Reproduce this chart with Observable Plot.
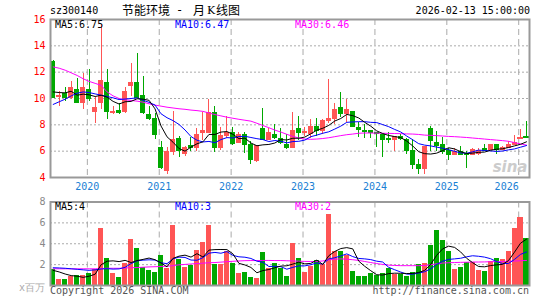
<!DOCTYPE html>
<html><head><meta charset="utf-8">
<script src="https://cdn.jsdelivr.net/npm/d3@7"></script>
<script src="https://cdn.jsdelivr.net/npm/@observablehq/plot@0.6"></script>
<style>
html,body{margin:0;padding:0;background:#fff;}
#wrap{position:relative;width:545px;height:300px;overflow:hidden;font-family:"DejaVu Sans Mono",monospace;font-size:10px;color:#000;}
.t{position:absolute;white-space:pre;line-height:1;}
.cjk{font-family:"Noto Sans CJK SC",sans-serif;}
#top,#bot{position:absolute;left:0;}
#top{top:0}
#bot{top:195px}
</style></head><body>
<div id="wrap">
<div id="top"></div><div id="bot"></div>
</div>
<script>
// ---- data (monthly, Jul 2019 .. Feb 2026) ----
const startYear = 2019, startMonth = 7;
const years = [2020, 2021, 2022, 2023, 2024, 2025, 2026];
const priceTicks = [4, 6, 8, 10, 12, 14, 16];
const volTicks = [2, 4, 6, 8];
const open  = [12.8,10.15,10.4,10.1,10.7,9.7,10.7,9.05,9.7,11.2,8.95,9.1,9.05,10.95,11.2,10.25,8.75,8.45,6.25,4.55,
  6.0,6.95,5.8,6.4,6.3,7.45,7.45,8.9,6.3,7.2,7.4,6.65,7.25,6.5,5.3,7.75,6.85,7.3,6.95,6.5,
  6.3,7.75,7.42,7.35,7.9,7.55,8.3,8.45,9.35,8.85,9.0,7.8,7.6,7.54,7.42,7.25,7.0,6.85,7.15,6.85,
  6.05,5.0,4.65,7.75,6.67,6.52,6.02,5.71,5.96,5.84,5.71,5.84,6.17,6.14,6.47,6.09,6.27,6.47,6.95,7.1];
const high  = [12.9,10.55,10.8,11.3,11.5,11.9,12.2,10.1,15.6,12.2,9.4,9.6,10.8,12.65,13.4,11.65,9.4,8.85,6.7,6.3,
  9.05,7.1,6.35,7.05,7.7,8.95,9.9,9.4,7.8,8.65,7.8,7.45,7.45,6.7,6.45,9.25,7.7,8.0,7.7,7.25,
  8.95,8.6,7.8,8.4,8.5,8.4,11.45,9.6,10.45,9.95,9.05,8.15,8.0,7.6,7.45,7.3,7.4,7.1,7.3,7.0,
  6.9,5.34,6.39,7.85,7.48,7.02,6.17,6.17,6.34,5.96,6.17,6.17,6.52,6.47,6.47,6.34,6.72,7.17,7.65,8.25];
const low   = [10.0,9.4,9.75,9.9,9.6,9.15,9.8,8.1,9.2,8.4,8.75,8.75,8.85,10.15,10.05,8.75,8.3,6.9,4.6,4.2,
  5.7,5.5,5.6,5.95,5.95,6.8,7.4,5.9,6.05,7.0,6.4,6.55,5.8,5.0,5.15,6.85,6.8,6.9,6.5,6.15,
  6.2,6.8,7.1,7.0,7.1,7.3,8.1,8.05,8.55,8.2,7.8,7.05,6.98,6.98,6.25,5.55,6.55,6.0,6.78,5.75,
  4.6,4.25,4.2,5.96,5.96,5.71,5.26,5.66,5.66,4.7,5.66,5.66,6.02,6.09,5.76,6.02,6.17,6.42,6.9,7.0];
const close = [10.1,10.25,10.1,10.8,9.7,10.8,10.0,9.35,11.4,9.0,9.05,8.95,10.55,11.25,10.1,8.9,8.5,7.3,4.75,6.0,
  6.85,6.05,6.3,6.3,7.25,7.6,8.9,6.3,7.2,7.45,6.55,7.25,6.5,5.35,6.4,6.9,7.4,7.05,6.65,6.25,
  7.55,7.4,7.48,7.9,7.6,8.3,8.5,9.15,8.85,9.15,7.85,7.62,7.47,7.42,7.35,6.85,6.85,7.1,6.98,6.05,
  5.0,4.65,6.39,6.83,6.42,5.96,5.71,5.96,5.76,5.71,6.09,6.04,6.04,6.47,6.09,6.27,6.52,6.67,7.05,7.05];
const volume = [1.5,0.57,0.57,0.86,0.96,0.96,1.12,1.5,5.43,2.62,1.12,0.8,2.07,4.4,3.54,1.69,1.44,1.28,2.87,1.66,
  5.75,2.49,1.76,1.92,3.35,4.15,5.75,2.01,2.01,3.26,2.14,1.18,1.28,0.8,0.7,3.19,1.66,2.14,1.6,0.86,
  3.99,2.62,1.28,1.85,2.39,1.98,6.77,3.29,3.26,2.87,1.37,0.86,0.86,1.12,0.96,1.18,1.6,1.05,1.05,0.86,
  1.21,2.01,2.14,3.83,5.27,4.31,3.29,1.53,1.69,2.23,2.23,1.44,1.37,2.3,2.55,2.46,3.26,5.43,6.54,4.53];
const ma5 = [10.5,10.45,10.43,10.55,10.25,10.33,10.28,10.15,10.25,10.1,9.78,9.58,9.75,9.78,9.98,9.95,9.86,9.21,7.91,7.09,
  6.68,6.2,6.0,6.31,6.56,6.71,7.27,7.27,7.45,7.49,7.28,6.95,6.99,6.62,6.41,6.48,6.51,6.62,6.88,6.85,
  6.98,6.98,7.07,7.32,7.59,7.74,7.96,8.29,8.48,8.79,8.7,8.52,8.19,7.9,7.54,7.34,7.19,7.11,7.03,6.77,
  6.4,5.96,5.81,5.78,5.85,6.04,6.26,6.17,5.96,5.82,5.85,5.91,5.93,6.07,6.15,6.18,6.28,6.4,6.52,6.71];
const ma10 = [9.55,9.75,9.95,10.2,10.4,10.5,10.45,10.35,10.25,10.15,10.05,9.92,9.96,10.0,10.05,9.86,9.71,9.5,8.84,8.54,
  8.32,8.03,7.61,7.11,6.83,6.7,6.74,6.64,6.88,7.03,7.0,7.11,7.13,7.04,6.95,6.88,6.73,6.81,6.75,6.63,
  6.73,6.75,6.84,7.1,7.22,7.36,7.47,7.68,7.9,8.19,8.22,8.24,8.24,8.19,8.17,8.02,7.86,7.65,7.46,7.15,
  6.87,6.57,6.46,6.4,6.31,6.22,6.11,5.99,5.87,5.84,5.95,6.08,6.05,6.02,5.98,6.01,6.1,6.17,6.3,6.43];
const ma30 = [12.4,12.3,12.15,11.95,11.75,11.5,11.3,11.15,11.0,10.5,10.2,10.0,9.9,9.85,9.8,9.72,9.6,9.5,9.42,9.34,
  9.28,9.22,9.18,9.12,9.08,9.02,8.9,8.78,8.68,8.58,8.5,8.42,8.35,8.28,8.12,7.95,7.78,7.6,7.45,7.28,
  7.12,7.0,6.92,6.9,6.92,6.96,7.02,7.1,7.18,7.25,7.3,7.36,7.38,7.38,7.37,7.36,7.35,7.34,7.33,7.31,
  7.3,7.27,7.22,7.2,7.18,7.15,7.12,7.1,7.07,7.04,7.0,6.96,6.92,6.88,6.84,6.8,6.75,6.65,6.55,6.46];
const vma5 = [1.45,1.3,1.1,0.95,0.89,0.78,0.89,1.08,1.99,2.33,2.36,2.29,2.41,2.2,2.39,2.5,2.63,2.47,2.16,1.79,
  2.6,2.81,2.91,2.72,3.05,2.73,3.39,3.44,3.45,3.44,3.03,2.12,1.97,1.73,1.22,1.43,1.53,1.7,1.86,1.89,
  2.05,2.24,2.07,2.12,2.43,2.02,2.85,3.26,3.54,3.63,3.51,2.33,1.84,1.42,1.03,1.0,1.14,1.18,1.17,1.15,
  1.15,1.24,1.45,2.01,2.89,3.51,3.77,3.65,3.22,2.61,2.19,1.82,1.79,1.91,1.98,2.02,2.39,3.2,4.05,4.44];
const vma10 = [1.7,1.68,1.65,1.6,1.55,1.5,1.45,1.5,1.58,1.61,1.57,1.59,1.74,2.1,2.36,2.43,2.46,2.44,2.18,2.09,
  2.55,2.72,2.69,2.44,2.42,2.67,3.1,3.17,3.09,3.25,2.88,2.75,2.71,2.59,2.33,2.23,1.82,1.84,1.8,1.56,
  1.74,1.88,1.88,1.99,2.16,2.04,2.55,2.66,2.83,3.03,2.77,2.59,2.55,2.48,2.33,2.25,1.74,1.51,1.29,1.09,
  1.08,1.19,1.32,1.59,2.02,2.33,2.5,2.55,2.61,2.75,2.85,2.8,2.72,2.57,2.29,2.11,2.11,2.5,2.98,3.21];
const vma30 = [1.6,1.6,1.6,1.6,1.6,1.6,1.6,1.6,1.62,1.65,1.65,1.65,1.68,1.7,1.72,1.75,1.78,1.8,1.82,1.85,
  1.9,1.98,2.02,2.06,2.1,2.14,2.18,2.2,2.24,2.28,2.32,2.35,2.38,2.39,2.39,2.4,2.4,2.39,2.39,2.37,
  2.35,2.33,2.31,2.3,2.3,2.35,2.45,2.52,2.55,2.52,2.47,2.4,2.3,2.2,2.1,2.02,1.95,1.92,1.9,1.9,
  1.9,1.9,1.92,1.98,2.08,2.15,2.18,2.2,2.22,2.23,2.25,2.25,2.26,2.28,2.28,2.3,2.32,2.34,2.37,2.4];
const priceLabels = [["MA5:6.75", "#000000"], ["MA10:6.47", "#0000ff"], ["MA30:6.46", "#ff00ff"]];
const volLabels = [["MA5:4", "#000000"], ["MA10:3", "#0000ff"], ["MA30:2", "#ff00ff"]];
const header = {code: "sz300140", name: "节能环境", kind: "月K线图", time: "2026-02-13 15:00:00"};
const footer = {left: "Copyright 2026 SINA.COM", right: "http://finance.sina.com.cn", unit: "x百万"};

// ---- build ----
const RED = "#ff5555", GREEN = "#00a800", GRID = "#aaaaaa", FRAME = "#999999";
const n = close.length;
const idx = d3.range(n);
const rows = idx.map(i => ({i, o: open[i], h: high[i], l: low[i], c: close[i], v: volume[i], up: close[i] >= open[i]}));
const col = d => d.up ? RED : GREEN;
const yearPos = years.map(y => ({y, x: (y - startYear) * 12 - (startMonth - 1) - 0.3}));
const xScale = {domain: [-0.45, n - 0.5], axis: null};
const half = 0.42;
const FONT = "DejaVu Sans Mono";

const topPlot = Plot.plot({
  width: 545, height: 195,
  marginLeft: 50, marginRight: 16, marginTop: 19, marginBottom: 18,
  style: {fontFamily: FONT, fontSize: "10px", background: "transparent", overflow: "visible"},
  color: {type: "identity"},
  x: xScale,
  y: {domain: [4, 16], axis: null, label: null},
  marks: [
    Plot.ruleY(priceTicks.filter(t => t > 4 && t < 16), {stroke: GRID, strokeDasharray: "2,2"}),
    Plot.ruleX(yearPos, {x: "x", stroke: GRID, strokeDasharray: "6,4"}),
    Plot.axisY({ticks: priceTicks, tickSize: 0, tickPadding: 5, fill: "#ff0000", fontSize: 10, label: null, tickFormat: d => String(d)}),
    Plot.text(["sina"], {frameAnchor: "bottom-right", dx: -2, dy: -6, lineAnchor: "bottom", fontSize: 15, fontWeight: "bold", fontStyle: "italic", fontFamily: "DejaVu Sans", fill: "#cccccc"}),
    Plot.ruleX(rows, {x: "i", y1: "l", y2: "h", stroke: col, shapeRendering: "crispEdges"}),
    Plot.rectY(rows, {x1: d => d.i - half, x2: d => d.i + half, y1: "o", y2: "c", fill: col, shapeRendering: "crispEdges"}),
    Plot.ruleY(rows, {x1: d => d.i - half, x2: d => d.i + half, y: "o", stroke: col, shapeRendering: "crispEdges"}),
    Plot.ruleY(rows, {x1: d => d.i - half, x2: d => d.i + half, y: "c", stroke: col, shapeRendering: "crispEdges"}),
    Plot.line(idx, {x: d => d, y: d => ma30[d], stroke: "#ff00ff", strokeWidth: 1}),
    Plot.line(idx, {x: d => d, y: d => ma10[d], stroke: "#0000ff", strokeWidth: 1}),
    Plot.line(idx, {x: d => d, y: d => ma5[d], stroke: "#000000", strokeWidth: 1}),
    Plot.text(yearPos.slice(0, -1), {x: "x", text: d => String(d.y), frameAnchor: "bottom", lineAnchor: "bottom", dy: 12.5, fill: "#1a7fd4"}),
    Plot.text(yearPos.slice(-1), {x: "x", text: d => String(d.y), frameAnchor: "bottom", lineAnchor: "bottom", dy: 12.5, textAnchor: "end", fill: "#1a7fd4"}),
    Plot.frame({stroke: FRAME, strokeWidth: 2})
  ]
});

const botPlot = Plot.plot({
  width: 545, height: 105,
  marginLeft: 50, marginRight: 16, marginTop: 6.5, marginBottom: 15,
  style: {fontFamily: FONT, fontSize: "10px", background: "transparent", overflow: "visible"},
  color: {type: "identity"},
  x: xScale,
  y: {domain: [0, 8], axis: null, label: null},
  marks: [
    Plot.ruleY(volTicks.filter(t => t < 8), {stroke: GRID, strokeDasharray: "2,2"}),
    Plot.ruleX(yearPos, {x: "x", stroke: GRID, strokeDasharray: "6,4"}),
    Plot.axisY({ticks: volTicks, tickSize: 0, tickPadding: 5, fill: "#888888", fontSize: 10, label: null, tickFormat: d => String(d)}),
    Plot.rectY(rows, {x1: d => d.i - half, x2: d => d.i + half, y1: 0, y2: "v", fill: col, shapeRendering: "crispEdges"}),
    Plot.line(idx, {x: d => d, y: d => vma30[d], stroke: "#ff00ff", strokeWidth: 1}),
    Plot.line(idx, {x: d => d, y: d => vma10[d], stroke: "#0000ff", strokeWidth: 1}),
    Plot.line(idx, {x: d => d, y: d => vma5[d], stroke: "#000000", strokeWidth: 1}),
    Plot.frame({stroke: FRAME, strokeWidth: 2})
  ]
});

document.getElementById("top").appendChild(topPlot);
document.getElementById("bot").appendChild(botPlot);

// labels overlay (HTML text)
const wrap = document.getElementById("wrap");
function addText(txt, css, cls) {
  const d = document.createElement("div");
  d.className = "t" + (cls ? " " + cls : "");
  d.textContent = txt;
  Object.assign(d.style, css);
  wrap.appendChild(d);
  return d;
}
const labelX = [55, 175, 295];
priceLabels.forEach((d, k) => addText(d[0], {left: labelX[k] + "px", top: "20px", color: d[1]}));
volLabels.forEach((d, k) => addText(d[0], {left: labelX[k] + "px", top: "202px", color: d[1]}));
addText(header.code, {left: "50px", top: "6px"});
addText(header.name, {left: "122px", top: "4px", fontSize: "12px"}, "cjk");
addText("-", {left: "176px", top: "4px", fontSize: "12px"});
addText("月", {left: "193px", top: "4px", fontSize: "12px"}, "cjk");
addText("K", {left: "207px", top: "5px", fontSize: "11px", fontFamily: "DejaVu Serif"});
addText("线图", {left: "216px", top: "4px", fontSize: "12px"}, "cjk");
addText(header.time, {right: "15px", top: "6px"});
addText(footer.left, {left: "50px", top: "286px", color: "#555"});
addText(footer.right, {right: "16px", top: "286px", color: "#555"});
addText(footer.unit, {left: "19px", top: "283px", color: "#aaa"});
</script>
</body></html>
